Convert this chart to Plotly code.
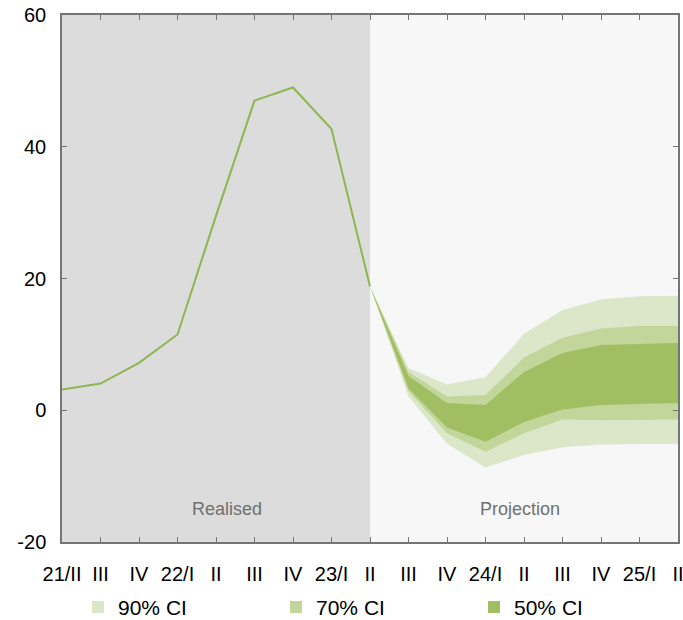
import plotly.graph_objects as go

quarters = ["21/II", "III", "IV", "22/I", "II", "III", "IV", "23/I", "II",
            "III", "IV", "24/I", "II", "III", "IV", "25/I", "II"]
realised = [3.15, 4.05, 7.2, 11.5, 29.5, 47.0, 49.0, 42.7, 18.8]
proj_start = 8
upper90 = [18.8, 6.4, 3.9, 5.0, 11.6, 15.2, 16.8, 17.3, 17.4]
upper70 = [18.8, 5.8, 2.1, 2.3, 8.0, 11.0, 12.4, 12.8, 12.8]
upper50 = [18.8, 5.2, 1.1, 0.8, 5.8, 8.7, 9.9, 10.1, 10.2]
lower50 = [18.8, 3.3, -2.6, -4.8, -1.8, 0.1, 0.8, 1.0, 1.1]
lower70 = [18.8, 2.9, -3.5, -6.3, -3.5, -1.4, -1.5, -1.4, -1.4]
lower90 = [18.8, 2.1, -5.1, -8.7, -6.8, -5.6, -5.2, -5.1, -5.1]
y_ticks = [-20, 0, 20, 40, 60]
y_ticktext = ["-20", "0", "20", "40", "60"]
band_names = ["90% CI", "70% CI", "50% CI"]
band_colors = ["#dce6c8", "#c2d69b", "#a0bf62"]
line_color = "#8fb551"

x_real = list(range(len(realised)))
x_proj = list(range(proj_start, proj_start + len(upper90)))

fig = go.Figure()

for lo, hi, col in [(lower90, upper90, band_colors[0]),
                    (lower70, upper70, band_colors[1]),
                    (lower50, upper50, band_colors[2])]:
    fig.add_trace(go.Scatter(x=x_proj, y=lo, mode="lines", line=dict(width=0, color=col),
                             showlegend=False, hoverinfo="skip"))
    fig.add_trace(go.Scatter(x=x_proj, y=hi, mode="lines", line=dict(width=0, color=col),
                             fill="tonexty", fillcolor=col, showlegend=False, hoverinfo="skip"))

fig.add_trace(go.Scatter(x=x_real, y=realised, mode="lines",
                         line=dict(color=line_color, width=2), showlegend=False))

for name, col in zip(band_names, band_colors):
    fig.add_trace(go.Scatter(x=[None], y=[None], mode="markers", name=name,
                             marker=dict(symbol="square", size=12, color=col)))

n = len(quarters) - 1
fig.add_shape(type="rect", xref="x", yref="paper", x0=0, x1=proj_start, y0=0, y1=1,
              fillcolor="#dcdcdc", line_width=0, layer="below")
fig.add_shape(type="rect", xref="x", yref="paper", x0=proj_start, x1=n, y0=0, y1=1,
              fillcolor="#f7f7f7", line_width=0, layer="below")

fig.add_annotation(x=4.28, y=-15, xref="x", yref="y", text="Realised",
                   showarrow=False, font=dict(size=18, color="#707070"))
fig.add_annotation(x=11.9, y=-15, xref="x", yref="y", text="Projection",
                   showarrow=False, font=dict(size=18, color="#707070"))

axis_col = "#757575"
tick_font = dict(family="Liberation Sans, Arial, sans-serif", size=20, color="#000000")
fig.update_xaxes(range=[0, n], tickvals=list(range(len(quarters))), ticktext=quarters,
                 ticks="inside", ticklen=5, tickcolor=axis_col, showline=True,
                 linecolor=axis_col, linewidth=1.5, mirror="ticks", showgrid=False,
                 zeroline=False, ticklabelstandoff=13, automargin=False,
                 ticklabeloverflow="allow", tickfont=tick_font)
fig.update_yaxes(range=[-20, 60], tickvals=y_ticks, ticktext=y_ticktext, ticks="inside",
                 ticklen=5, tickcolor=axis_col, showline=True, linecolor=axis_col,
                 linewidth=1.5, mirror="ticks", showgrid=False, zeroline=False,
                 ticklabelstandoff=10, automargin=False, ticklabeloverflow="allow",
                 tickfont=tick_font)

fig.update_layout(
    width=683, height=620,
    margin=dict(l=62, r=5, t=15, b=78, autoexpand=False),
    paper_bgcolor="white", plot_bgcolor="rgba(0,0,0,0)",
    font=dict(family="Liberation Sans, Arial, sans-serif", size=21, color="#000000"),
    showlegend=True,
    legend=dict(orientation="h", x=0.026, xanchor="left", y=-0.085, yanchor="top",
                entrywidth=153, font=dict(size=21), itemwidth=30,
                traceorder="normal", bgcolor="rgba(0,0,0,0)"),
)

fig.write_html("out.html", config={"displayModeBar": False},
               post_script="document.body.style.margin='0';document.body.style.overflow='hidden';")
